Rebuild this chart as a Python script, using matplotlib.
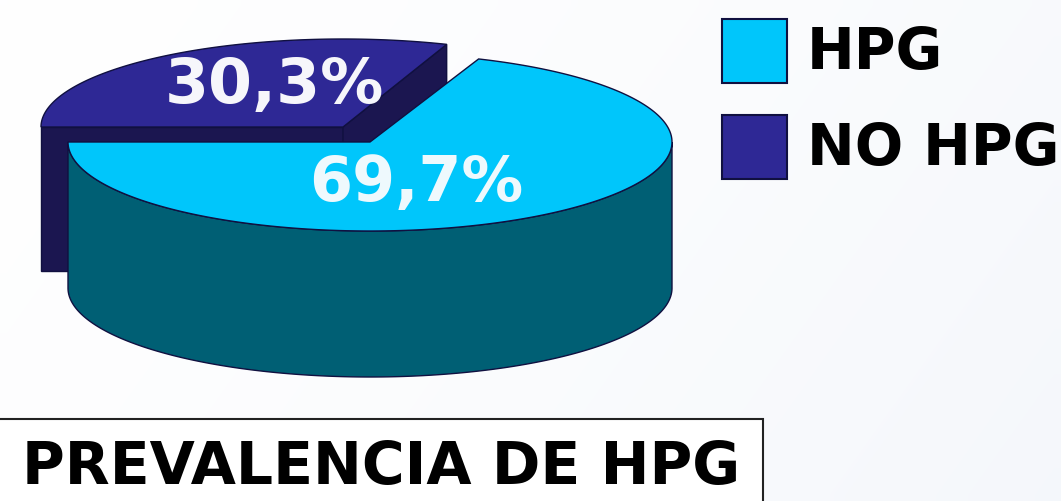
import numpy as np
import matplotlib
matplotlib.use("Agg")
import matplotlib.pyplot as plt
from matplotlib.patches import Polygon, Rectangle

categories = ["HPG", "NO HPG"]
values = [69.7, 30.3]
value_labels = ["69,7%", "30,3%"]
title = "PREVALENCIA DE HPG"

W, H = 1061, 502
fig = plt.figure(figsize=(W / 100, H / 100), dpi=100)
ax = fig.add_axes([0, 0, 1, 1])
ax.set_xlim(0, W)
ax.set_ylim(H, 0)
ax.axis("off")

# pale background
yy, xx = np.mgrid[0:1:40j, 0:1:80j]
bg = np.clip(xx * 0.75 + yy * 0.25, 0, 1) ** 1.5
c0, c1 = np.array([0.998, 0.998, 1.0]), np.array([0.96, 0.97, 0.985])
ax.imshow(c0 + (c1 - c0) * bg[..., None], extent=(0, W, H, 0), aspect="auto", zorder=0,
          interpolation="bilinear")

LIGHT, DARK = "#00c6fb", "#2e2895"
LIGHT_SIDE, DARK_SIDE = "#005f74", "#1b1650"
EDGE = "#101040"
RX, DEPTH = 302, 146

split = 180 + values[0] / sum(values) * 360  # HPG runs from the left edge, counter-clockwise on screen


def arc(cx, cy, ry, a0, a1):
    t = np.radians(np.linspace(a0, a1, 240))
    return np.column_stack([cx + RX * np.cos(t), cy - ry * np.sin(t)])


# NO HPG slice (behind, shifted up-left)
cx2, cy2, ry2 = 343, 128, 88
split2 = split - 1
end = arc(cx2, cy2, ry2, split2, split2)[0]
ax.add_patch(Polygon([(cx2 - RX, cy2), (cx2 - RX, cy2 + DEPTH - 2), (cx2, cy2 + DEPTH - 2), (cx2, cy2)],
                     fc=DARK_SIDE, ec=EDGE, lw=1, zorder=2))
ax.add_patch(Polygon([(cx2, cy2), tuple(end), (end[0], end[1] + DEPTH), (cx2, cy2 + DEPTH)],
                     fc=DARK_SIDE, ec=EDGE, lw=1, zorder=2))
ax.add_patch(Polygon(np.vstack([[(cx2, cy2)], arc(cx2, cy2, ry2, split2 - 360, 180)]),
                     fc=DARK, ec=EDGE, lw=1, zorder=3))

# HPG slice (front)
cx1, cy1, ry1 = 370, 143, 89
split1 = split - 2
front = arc(cx1, cy1, ry1, 180, 360)
ax.add_patch(Polygon(np.vstack([front, front[::-1] + [0, DEPTH]]),
                     fc=LIGHT_SIDE, ec=EDGE, lw=1, zorder=4))
ax.add_patch(Polygon(np.vstack([[(cx1, cy1)], arc(cx1, cy1, ry1, 180, split1)]),
                     fc=LIGHT, ec=EDGE, lw=1, zorder=5))

FONT = "DejaVu Sans"
ax.text(274, 85.5, value_labels[1], color="#f6f6fb", fontsize=45.5, fontweight="bold", family=FONT,
        ha="center", va="center", zorder=6)
ax.text(416, 184, value_labels[0], color="#eef9fd", fontsize=44.5, fontweight="bold", family=FONT,
        ha="center", va="center", zorder=6)

# Legend
for cat, col, y, ty in zip(categories, [LIGHT, DARK], [20, 116], [53, 150]):
    ax.add_patch(Rectangle((722, y), 65, 64, fc=col, ec=EDGE, lw=1.5, zorder=3))
    ax.text(807, ty, cat, color="black", fontsize=41, fontweight="bold", family=FONT,
            ha="left", va="center", zorder=6)

# Title box
ax.add_patch(Rectangle((-3, 420), 766, 90, fc="white", ec="#222222", lw=1.5, zorder=3, clip_on=True))
ax.text(381, 468, title, color="black", fontsize=42, fontweight="bold", family=FONT,
        ha="center", va="center", zorder=6)

fig.savefig("out.png", dpi=100)
